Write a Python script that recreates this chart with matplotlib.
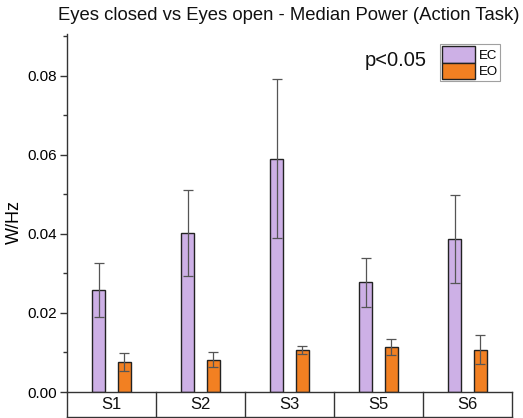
#!/usr/bin/env python3
"""Median power EC vs EO grouped bars with Origin-style category table."""

import matplotlib

matplotlib.use("Agg")
import matplotlib.pyplot as plt
from matplotlib.patches import Patch
from matplotlib.ticker import MultipleLocator

subjects = ["S1", "S2", "S3", "S5", "S6"]
ec_mean = [0.0258, 0.0401, 0.0590, 0.0278, 0.0387]
ec_err = [0.0068, 0.0109, 0.0200, 0.0062, 0.0112]
eo_mean = [0.0076, 0.0081, 0.0106, 0.0113, 0.0107]
eo_err = [0.0023, 0.0019, 0.0011, 0.0020, 0.0036]

EC_COLOR = "#CDB0E6"
EO_COLOR = "#F28022"


def main() -> None:
    plt.rcParams["font.family"] = ["Liberation Sans", "DejaVu Sans"]
    fig = plt.figure(figsize=(5.23, 4.18), dpi=100)
    ax = fig.add_axes([67 / 523, 1 - 392 / 418, 445 / 523, 358 / 418])

    xs = list(range(len(subjects)))
    w = 0.157
    off = 0.146
    ekw = dict(ecolor="#555555", elinewidth=0.9, capsize=3.5, capthick=0.9)
    ax.bar([x - off for x in xs], ec_mean, w, yerr=ec_err, color=EC_COLOR,
           edgecolor="#222222", linewidth=1.0, error_kw=ekw, zorder=2)
    ax.bar([x + off for x in xs], eo_mean, w, yerr=eo_err, color=EO_COLOR,
           edgecolor="#222222", linewidth=1.0, error_kw=ekw, zorder=2)

    ax.set_xlim(-0.5, len(subjects) - 0.5)
    ax.set_ylim(0, 0.0905)
    ax.yaxis.set_major_locator(MultipleLocator(0.02))
    ax.yaxis.set_minor_locator(MultipleLocator(0.01))
    ax.yaxis.set_major_formatter(lambda v, p: f"{v:.2f}")
    ax.tick_params(axis="y", which="major", direction="out", length=5,
                   width=1, labelsize=11, color="#333333", pad=2.5)
    ax.tick_params(axis="y", which="minor", direction="out", length=3,
                   width=1, color="#333333")
    ax.set_xticks([])
    for s in ("top", "right"):
        ax.spines[s].set_visible(False)
    for s in ("left", "bottom"):
        ax.spines[s].set_color("#333333")
        ax.spines[s].set_linewidth(1.0)

    # category table under the axis
    h = 25 / 358
    tr = ax.get_xaxis_transform()
    ax.plot([-0.5, len(subjects) - 0.5], [-h, -h], color="#333333", lw=1.0,
            transform=tr, clip_on=False)
    for b in [i - 0.5 for i in range(len(subjects) + 1)]:
        ax.plot([b, b], [-h, 0], color="#333333", lw=1.0, transform=tr,
                clip_on=False)
    for x, name in zip(xs, subjects):
        ax.text(x, -h / 2, name, ha="center", va="center", fontsize=12,
                transform=tr, color="#111111")

    ax.set_ylabel("W/Hz", fontsize=13)
    ax.yaxis.set_label_coords((23 - 67) / 445, (392 - 222) / 358)
    fig.text(289 / 523, 1 - 16 / 418,
             "Eyes closed vs Eyes open - Median Power (Action Task)",
             ha="center", va="center", fontsize=13.3, color="#111111")
    fig.text(396 / 523, 1 - 61 / 418, "p<0.05", ha="center", va="center",
             fontsize=14.5, color="#111111")

    handles = [Patch(facecolor=EC_COLOR, edgecolor="#222222", label="EC"),
               Patch(facecolor=EO_COLOR, edgecolor="#222222", label="EO")]
    leg = ax.legend(handles=handles, loc="upper left",
                    bbox_to_anchor=((440 - 67) / 445, (392 - 44) / 358),
                    fontsize=9.5, frameon=True, fancybox=False,
                    handlelength=2.5, handleheight=1.55, handletextpad=0.3,
                    labelspacing=0.0, borderpad=0.15, borderaxespad=0)
    leg.get_frame().set_edgecolor("#888888")
    leg.get_frame().set_linewidth(0.8)

    fig.savefig("out.png", dpi=100)
    plt.close(fig)


if __name__ == "__main__":
    main()
